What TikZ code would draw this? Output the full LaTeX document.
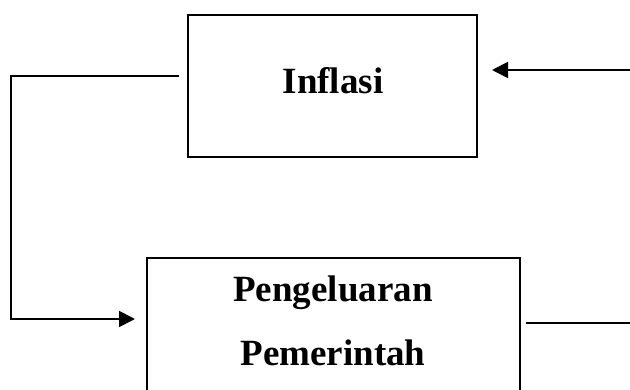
\documentclass[tikz,border=0pt]{standalone}
\usepackage{fontspec}
\setmainfont{Liberation Serif}
\usetikzlibrary{arrows.meta}
\begin{document}
\begin{tikzpicture}[x=1pt,y=-1pt,
  box/.style={draw, line width=2pt, inner sep=0pt},
  lbl/.style={font=\fontsize{37}{40}\selectfont\bfseries, anchor=base, inner sep=0pt},
  conn/.style={line width=1.8pt, line join=miter},
  tip/.style={-{Triangle[length=16pt,width=16pt]}}]
\useasboundingbox (0,0) rectangle (630,390);
\clip (0,0) rectangle (630,390);
\fill[white] (0,0) rectangle (630,390);
% boxes
\node[box, minimum width=289pt, minimum height=142pt] (infl) at (332.5,86) {};
\node[lbl] (tinf) at (333,94) {Inflasi};
\node[box, minimum width=373pt, minimum height=200pt, anchor=north west] (peng) at (146,257) {};
\node[lbl] (tpeng1) at (333,302) {Pengeluaran};
\node[lbl] (tpeng2) at (333,366) {Pemerintah};
% coordinates
\coordinate (lstart) at ([xshift=-8pt]infl.west |- 0,76);
\coordinate (lcorner) at (11,319);
\coordinate (lend) at ([xshift=-11pt]peng.west |- lcorner);
\coordinate (rstart) at (630,70);
\coordinate (rend) at ([xshift=14pt]infl.east |- rstart);
\coordinate (bstart) at ([xshift=5pt]peng.east |- 0,323);
\coordinate (bend) at (630,323);
% connectors
\draw[conn,tip] (lstart) -| (lcorner) -- (lend);
\draw[conn,tip] (rstart) -- (rend);
\draw[conn] (bstart) -- (bend);
\end{tikzpicture}
\end{document}
